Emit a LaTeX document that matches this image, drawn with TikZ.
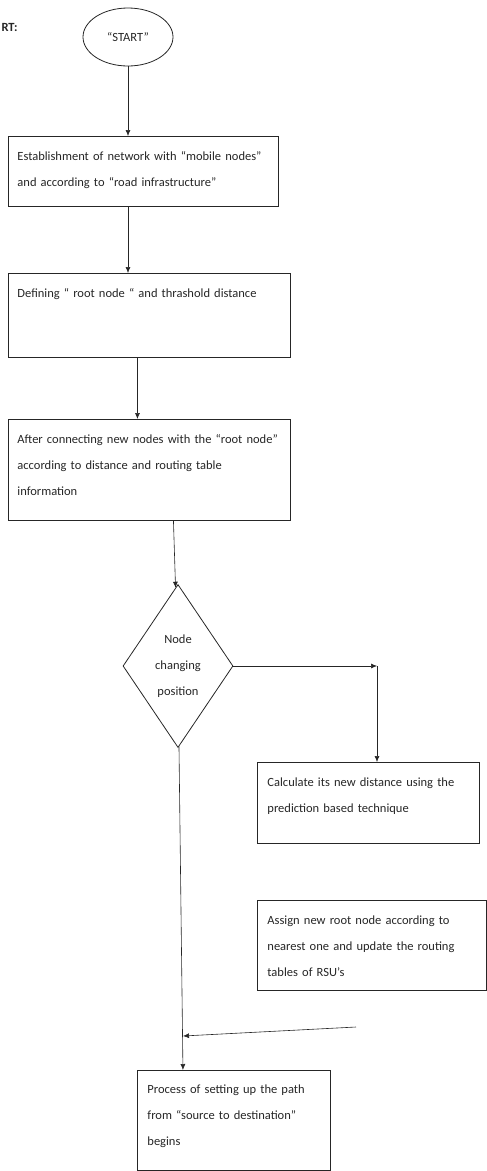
\documentclass[tikz,border=0pt]{standalone}
\usepackage{fontspec}
\setmainfont{Carlito}
\usetikzlibrary{arrows.meta,shapes,positioning}

\begin{document}
\begin{tikzpicture}[x=1pt, y=-1pt, >={Latex[length=6pt,width=5pt]}, font=\fontsize{12.5}{26}\selectfont,
    procbox/.style={draw=black!85, line width=0.9pt, rectangle, anchor=north west,
      inner xsep=9pt, inner ysep=0pt, text height=24pt, align=left, text=black!85},
    flowline/.style={black!85, line width=0.6pt}]
   \useasboundingbox (0,0) rectangle (487,1171);

   %heading and start
   \node[anchor=west, text=black!85] (head) at (-2,27) {\textbf{RT:}};
   \node[draw=black!85, line width=0.8pt, ellipse, minimum width=90pt, minimum height=58pt, inner sep=0pt, text=black!85] (start) at (128,37) {“START”};

   %main column
   \node[procbox, text width=252pt, text depth=46pt] (estab) at (8,136) {Establishment of  network with “mobile nodes”\\and according to  “road infrastructure”};
   \node[procbox, text width=264pt, text depth=60pt] (defn) at (8,273) {Defining “ root node “ and thrashold distance};
   \node[procbox, text width=264pt, text depth=77pt] (after) at (8,419) {After connecting  new nodes with the “root node”\\according to distance  and routing table\\information};

   %decision
   \node[draw=black!85, line width=0.8pt, diamond, aspect=0.675, minimum width=110pt, minimum height=163pt, inner sep=0pt, align=center, text=black!85] (chg) at (178,666) {Node\\changing\\position};

   %right branch
   \node[procbox, inner xsep=10pt, text width=202pt, text depth=57pt] (calc) at (257,762) {Calculate its new distance using the\\prediction based technique};
   \node[procbox, inner xsep=10pt, text width=209pt, text depth=66pt] (assign) at (257,900) {Assign new root node according to\\nearest one and update the routing\\tables of RSU’s};

   %end
   \node[procbox, inner xsep=10pt, text height=23pt, text width=173pt, text depth=77pt] (proc) at (137,1070) {Process of setting up the path\\from “source to destination”\\begins};

   \coordinate (turn) at (377,666);
   \coordinate (mergein) at (356,1027);
   \coordinate (mergeend) at (183,1036);

  \path[->, flowline]
    (start) edge (start |- estab.north)
    (start |- estab.south) edge (start |- defn.north)
    ([xshift=-12pt]defn.south) edge ([xshift=-12pt]defn.south |- after.north)
    ([xshift=24pt]after.south) edge (chg)

    %right branch
    (chg) edge (turn)
    (turn) edge (turn |- calc.north)

    %down to the end
    (chg) edge ([xshift=-51pt]proc.north)
    (mergein) edge (mergeend);
  \end{tikzpicture}
\end{document}
